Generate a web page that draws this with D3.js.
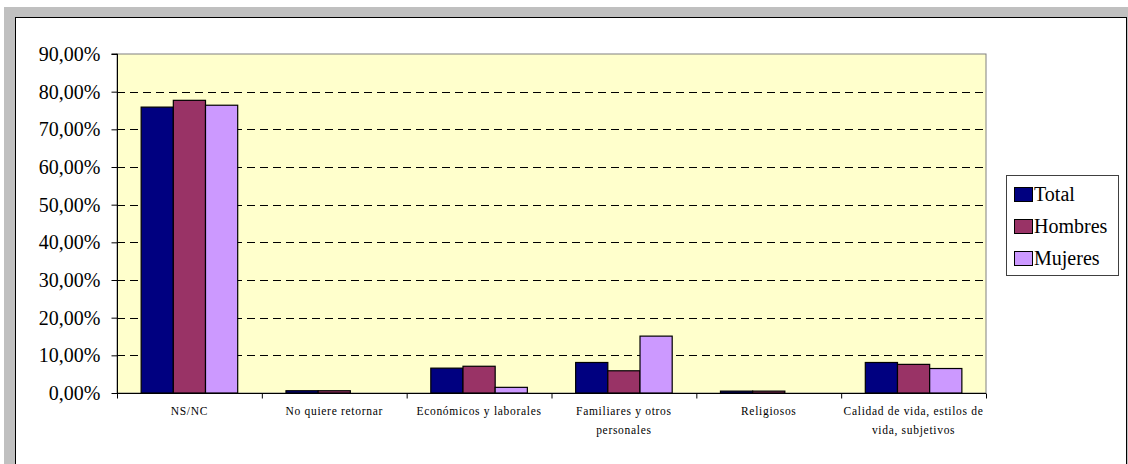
<!DOCTYPE html>
<html><head><meta charset="utf-8">
<script src="https://cdn.jsdelivr.net/npm/d3@7"></script>
<style>html,body{margin:0;padding:0;background:#fff;}svg{display:block;}
text{font-family:"Liberation Serif","Times New Roman",serif;}</style>
</head><body>
<script>
const categories = [
  ["NS/NC"],
  ["No quiere retornar"],
  ["Económicos y laborales"],
  ["Familiares y otros", "personales"],
  ["Religiosos"],
  ["Calidad de vida, estilos de", "vida, subjetivos"]
];
const seriesNames = ["Total", "Hombres", "Mujeres"];
const total   = [75.9, 0.6, 6.6, 8.1, 0.5, 8.1];
const hombres = [77.7, 0.6, 7.1, 5.9, 0.5, 7.6];
const mujeres = [76.4, 0.0, 1.5, 15.1, 0.0, 6.5];
const colors = ["#000080", "#993366", "#CC99FF"];
const yTicks = [0, 10, 20, 30, 40, 50, 60, 70, 80, 90];

(function () {
const W = 1128, H = 464;
const svg = d3.select("body").append("svg").attr("width", W).attr("height", H);

// gray frame
svg.append("rect").attr("x", 4).attr("y", 7).attr("width", W - 4).attr("height", H - 7).attr("fill", "#c0c0c0");
svg.append("rect").attr("x", 15.5).attr("y", 17.5).attr("width", 1111).attr("height", H).attr("fill", "#fff").attr("stroke", "#000").attr("stroke-width", 1);

const pL = 117, pR = 986, pT = 54, pB = 393;
const x0 = d3.scaleBand().domain(d3.range(categories.length)).range([pL, pR]).paddingInner(0).paddingOuter(0);
const cw = x0.bandwidth();
const bw = cw / 4.5;
const y = d3.scaleLinear().domain([0, 90]).range([pB, pT]);

svg.append("rect").attr("x", pL).attr("y", pT).attr("width", pR - pL).attr("height", pB - pT)
  .attr("fill", "#FFFFCC").attr("stroke", "#808080").attr("stroke-width", 1);

// gridlines
svg.append("g").selectAll("line").data(yTicks.filter(t => t > 0 && t < 90)).join("line")
  .attr("x1", pL).attr("x2", pR)
  .attr("y1", d => Math.round(y(d)) + 0.5).attr("y2", d => Math.round(y(d)) + 0.5)
  .attr("stroke", "#000").attr("stroke-dasharray", "8,5").attr("stroke-width", 1);

// bars
const data = [total, hombres, mujeres];
data.forEach((vals, si) => {
  svg.append("g").selectAll("rect").data(vals).join("rect")
    .attr("x", (d, i) => x0(i) + bw * 0.75 + si * bw)
    .attr("y", d => y(d))
    .attr("width", bw)
    .attr("height", d => pB - y(d))
    .attr("fill", colors[si])
    .attr("stroke", "#000").attr("stroke-width", 1.2);
});

// y axis
const yAxis = d3.axisLeft(y).tickValues(yTicks).tickSize(6).tickPadding(11)
  .tickFormat(d => d3.format(".2f")(d).replace(".", ",") + "%");
const gy = svg.append("g").attr("transform", `translate(${pL + 0.5},0)`).call(yAxis);
gy.attr("font-family", null);
gy.selectAll("text").attr("font-size", 20).attr("fill", "#000");
gy.selectAll("line").attr("stroke", "#000");
gy.select(".domain").attr("stroke", "#000").attr("d", `M-6,${pT}H0V${pB}`);

// x axis
const xb = d3.scaleLinear().domain([0, categories.length]).range([pL, pR]);
const gx = svg.append("g").attr("transform", `translate(0,${pB + 0.5})`)
  .call(d3.axisBottom(xb).tickValues(d3.range(categories.length + 1)).tickSize(5).tickFormat(""));
gx.selectAll("line").attr("stroke", "#000");
gx.select(".domain").attr("stroke", "#000").attr("d", `M${pL},0H${pR}`);

// category labels
const lab = svg.append("g");
categories.forEach((lines, i) => {
  const t = lab.append("text").attr("text-anchor", "middle")
    .attr("font-size", 11.5)
    .attr("letter-spacing", "0.7px").attr("fill", "#000");
  lines.forEach((ln, j) => {
    t.append("tspan").attr("x", x0(i) + cw / 2).attr("y", 415 + j * 19).text(ln);
  });
});

// legend
const lg = svg.append("g");
lg.append("rect").attr("x", 1006.5).attr("y", 175.5).attr("width", 112).attr("height", 100)
  .attr("fill", "#fff").attr("stroke", "#404040").attr("stroke-width", 1);
seriesNames.forEach((n, i) => {
  const yy = 187 + i * 32;
  lg.append("rect").attr("x", 1014.5).attr("y", yy + 0.5).attr("width", 18).attr("height", 14)
    .attr("fill", colors[i]).attr("stroke", "#000").attr("stroke-width", 1);
  lg.append("text").attr("x", 1034).attr("y", yy + 14)
    .attr("font-size", 20).attr("fill", "#000").text(n);
});
})();
</script>
</body></html>
